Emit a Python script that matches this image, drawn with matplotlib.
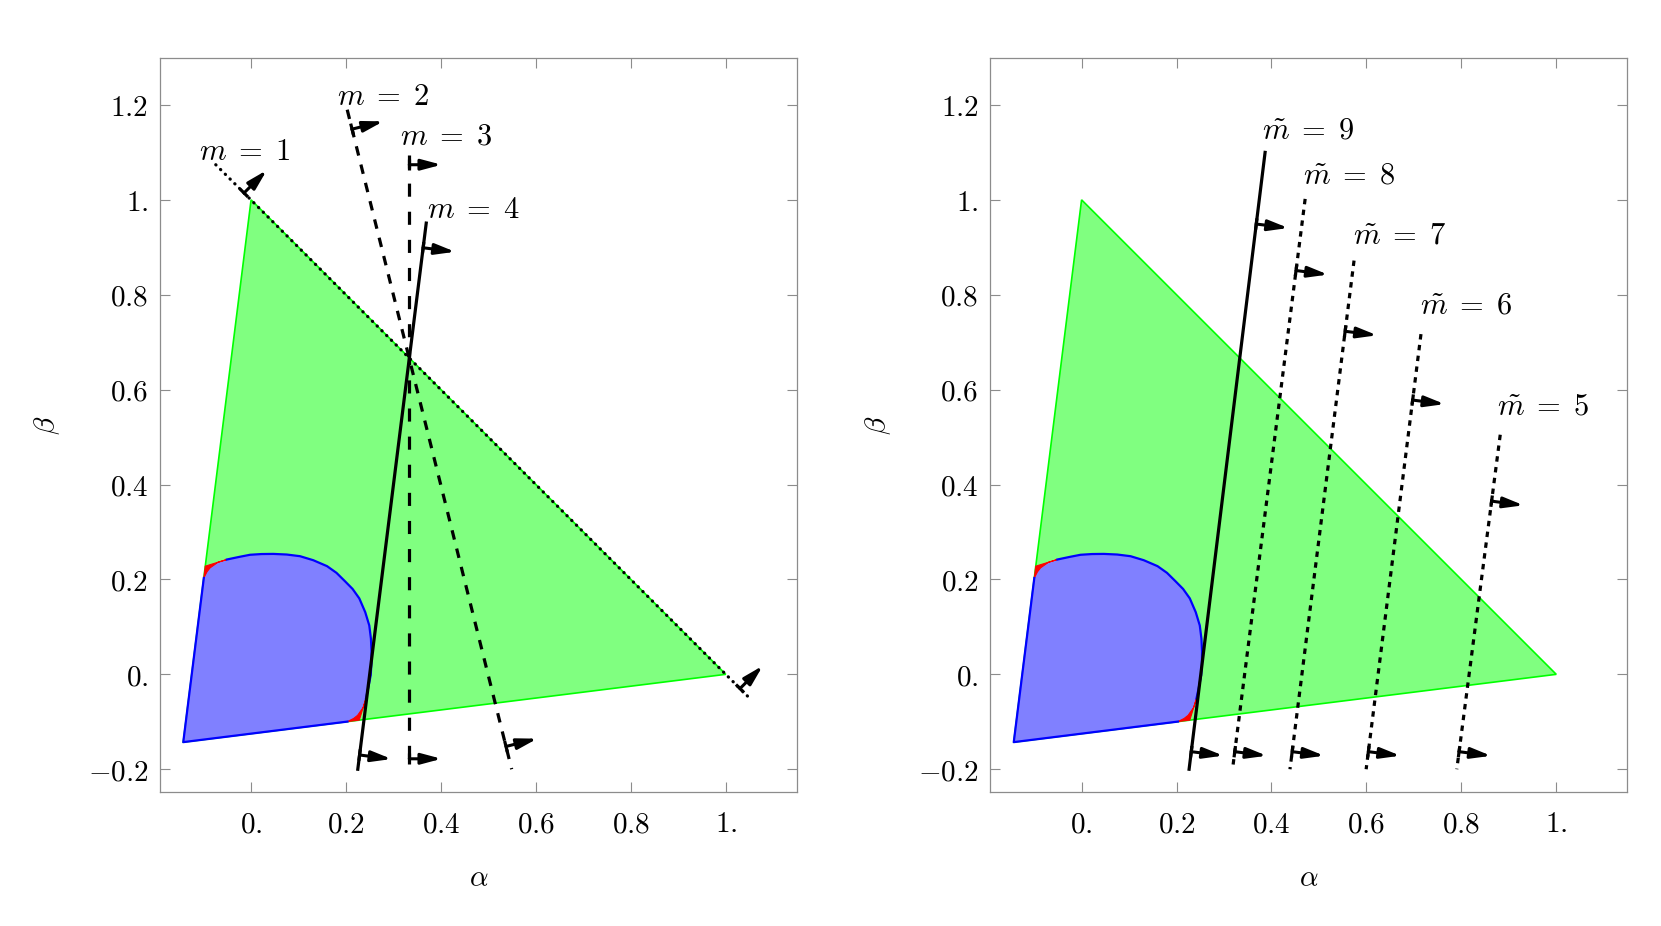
import numpy as np
import matplotlib
matplotlib.use("Agg")
import matplotlib.pyplot as plt
from matplotlib.patches import Polygon

plt.rcParams["mathtext.fontset"] = "cm"
plt.rcParams["font.family"] = ["DejaVu Serif"]

# feasible triangle (alpha, beta)
tri_alpha = [0.0, 1.0, -0.1429]
tri_beta = [1.0, 0.0, -0.1429]

# blue region: upper half of the curved boundary (mirrored across alpha = beta)
curve_alpha = [-0.051, -0.025, -0.002, 0.022, 0.047, 0.075, 0.103, 0.131, 0.160, 0.180, 0.197]
curve_beta = [0.242, 0.2475, 0.252, 0.2535, 0.2538, 0.2525, 0.249, 0.2405, 0.228, 0.2138, 0.197]

# red corner wedge near the left edge (inner curve, then outer corner point)
red_in_alpha = [-0.0996, -0.093, -0.0864, -0.070, -0.051]
red_in_beta = [0.203, 0.216, 0.2244, 0.236, 0.242]
red_out_alpha = [-0.0965]
red_out_beta = [0.228]

# left panel lines
m_labels = [r"$m \;=\; 1$", r"$m \;=\; 2$", r"$m \;=\; 3$", r"$m \;=\; 4$"]
m_top_alpha = [-0.0744, 0.2025, 0.3333, 0.369]
m_top_beta = [1.074, 1.190, 1.095, 0.951]
m_bot_alpha = [1.048, 0.549, 0.3333, 0.2248]
m_bot_beta = [-0.048, -0.200, -0.200, -0.200]
m_arrow_beta = [[1.0145, -0.030], [1.149, -0.152], [1.074, -0.178], [0.899, -0.170]]
m_label_alpha = [-0.109, 0.180, 0.314, 0.370]
m_label_beta = [1.085, 1.200, 1.116, 0.962]
m_styles = [(0, (0.1, 2.0)), (0, (3.0, 2.9)), (0, (4.1, 4.7)), "-"]

# right panel lines
mt_labels = [r"$\tilde{m} \;=\; 9$", r"$\tilde{m} \;=\; 8$", r"$\tilde{m} \;=\; 7$",
             r"$\tilde{m} \;=\; 6$", r"$\tilde{m} \;=\; 5$"]
mt_top_alpha = [0.3866, 0.471, 0.574, 0.715, 0.882]
mt_top_beta = [1.100, 1.002, 0.872, 0.717, 0.505]
mt_bot_alpha = [0.2265, 0.318, 0.439, 0.5995, 0.7905]
mt_bot_beta = [-0.200, -0.200, -0.200, -0.200, -0.200]
mt_arrow_beta = [[0.949, -0.163], [0.851, -0.163], [0.723, -0.163],
                 [0.578, -0.163], [0.365, -0.163]]
mt_label_alpha = [0.380, 0.466, 0.571, 0.712, 0.876]
mt_label_beta = [1.130, 1.034, 0.907, 0.760, 0.547]
mt_styles = ["-", (0, (1.7, 1.7)), (0, (1.7, 1.7)), (0, (1.7, 1.7)), (0, (1.7, 1.7))]

xticks = [0.0, 0.2, 0.4, 0.6, 0.8, 1.0]
xtick_labels = ["$0.$", "$0.2$", "$0.4$", "$0.6$", "$0.8$", "$1.$"]
yticks = [-0.2, 0.0, 0.2, 0.4, 0.6, 0.8, 1.0, 1.2]
ytick_labels = ["$-0.2$", "$0.$", "$0.2$", "$0.4$", "$0.6$", "$0.8$", "$1.$", "$1.2$"]

FS = 21
LABEL_FS = 22
ARROW_LEN = 0.068
GRAY = "#8c8c8c"


def draw_regions(ax):
    ax.add_patch(Polygon(np.column_stack([tri_alpha, tri_beta]), closed=True,
                         facecolor="#80ff80", edgecolor="#00ff00", lw=1.2, zorder=1))
    up_a = np.array(curve_alpha)
    up_b = np.array(curve_beta)
    full_a = np.concatenate([up_a, up_b[::-1][1:]])
    full_b = np.concatenate([up_b, up_a[::-1][1:]])
    ra = np.array(red_in_alpha)
    rb = np.array(red_in_beta)
    va, vb = tri_alpha[2], tri_beta[2]
    poly_a = np.concatenate([[va], ra, full_a, rb[::-1], [va]])
    poly_b = np.concatenate([[vb], rb, full_b, ra[::-1], [vb]])
    ax.add_patch(Polygon(np.column_stack([poly_a, poly_b]), closed=True,
                         facecolor="#8080ff", edgecolor="none", zorder=2))
    # red wedges at both corners
    wa = np.concatenate([ra, red_out_alpha])
    wb = np.concatenate([rb, red_out_beta])
    ax.add_patch(Polygon(np.column_stack([wa, wb]), closed=True,
                         facecolor="red", edgecolor="red", lw=0.8, zorder=2))
    ax.add_patch(Polygon(np.column_stack([wb, wa]), closed=True,
                         facecolor="red", edgecolor="red", lw=0.8, zorder=2))
    # blue outline
    ax.plot(full_a, full_b, color="blue", lw=1.6, zorder=3, solid_joinstyle="round")
    ax.plot([rb[0], va, ra[0]], [ra[0], vb, rb[0]], color="blue", lw=1.6, zorder=3)


def draw_lines(ax, labels, ta, tb, ba, bb, arrows, la, lb, styles):
    for i in range(len(labels)):
        dotted = styles[i] == (0, (0.1, 2.0))
        ax.plot([ta[i], ba[i]], [tb[i], bb[i]], color="black", lw=2.3,
                linestyle=styles[i], dash_capstyle="round" if dotted else "butt",
                zorder=5)
        d = np.array([ta[i] - ba[i], tb[i] - bb[i]])
        d = d / np.hypot(*d)
        n = np.array([d[1], -d[0]])
        for b in arrows[i]:
            t = (b - bb[i]) / (tb[i] - bb[i])
            a = ba[i] + t * (ta[i] - ba[i])
            ax.plot([a - 0.012 * d[0], a + 0.012 * d[0]], [b - 0.012 * d[1], b + 0.012 * d[1]],
                    color="black", lw=2.3, solid_capstyle="butt", zorder=5)
            ax.annotate("", xy=(a + ARROW_LEN * n[0], b + ARROW_LEN * n[1]), xytext=(a, b),
                        arrowprops=dict(arrowstyle="-|>,head_length=0.75,head_width=0.2",
                                        color="black", lw=2.2, mutation_scale=16,
                                        shrinkA=0, shrinkB=0), zorder=6)
        ax.text(la[i], lb[i], labels[i], fontsize=LABEL_FS, ha="left", va="baseline", zorder=7)


def style_axes(ax):
    ax.set_xlim(-0.192, 1.150)
    ax.set_ylim(-0.248, 1.299)
    ax.set_xticks(xticks)
    ax.set_xticklabels(xtick_labels)
    ax.set_yticks(yticks)
    ax.set_yticklabels(ytick_labels)
    ax.tick_params(direction="in", length=7.2, width=0.8, color=GRAY, top=True, right=True,
                   labelsize=FS, pad=8.6)
    ax.tick_params(axis="x", pad=13)
    for s in ax.spines.values():
        s.set_color(GRAY)
        s.set_linewidth(0.9)
    ax.set_xlabel(r"$\alpha$", fontsize=FS, va="center")
    ax.set_ylabel(r"$\beta$", fontsize=FS, va="center", ha="center")
    ax.xaxis.set_label_coords(0.5, -0.118)
    ax.yaxis.set_label_coords(-0.1764, 0.5)


fig = plt.figure(figsize=(16.61, 9.26), dpi=100)
ax1 = fig.add_axes([0.0963, 0.1447, 0.3835, 0.7927])
ax2 = fig.add_axes([0.5963, 0.1447, 0.3835, 0.7927])

for ax in (ax1, ax2):
    draw_regions(ax)
    style_axes(ax)

draw_lines(ax1, m_labels, m_top_alpha, m_top_beta, m_bot_alpha, m_bot_beta,
           m_arrow_beta, m_label_alpha, m_label_beta, m_styles)
draw_lines(ax2, mt_labels, mt_top_alpha, mt_top_beta, mt_bot_alpha, mt_bot_beta,
           mt_arrow_beta, mt_label_alpha, mt_label_beta, mt_styles)

fig.savefig("out.png", dpi=100)
